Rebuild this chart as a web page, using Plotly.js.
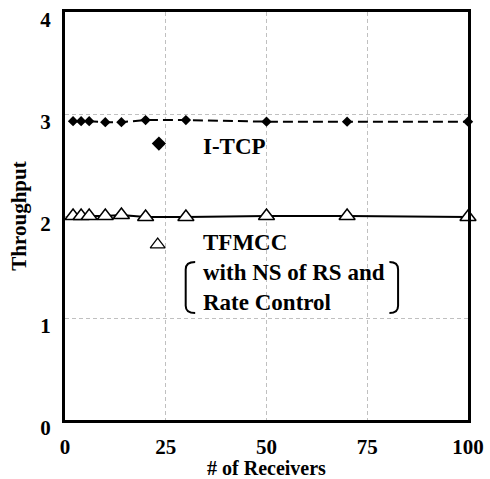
<!DOCTYPE html>
<html>
<head>
<meta charset="utf-8">
<script src="https://cdn.plot.ly/plotly-3.0.1.min.js"></script>
<style>html,body{margin:0;padding:0;background:#fff;}</style>
</head>
<body>
<div id="chart"></div>
<script>
// ---- data ----
var receivers = [2, 4, 6, 10, 14, 20, 30, 50, 70, 100];
var itcp      = [2.93, 2.93, 2.93, 2.92, 2.92, 2.94, 2.94, 2.925, 2.925, 2.925];
var tfmcc     = [2.0, 2.0, 2.0, 2.0, 2.01, 1.99, 1.99, 2.0, 2.0, 1.99];
var xTicks    = [0, 25, 50, 75, 100];
var yTicks    = [0, 1, 2, 3, 4];
var seriesNames = ['I-TCP', 'TFMCC<br>with NS of RS and<br>Rate Control'];

// ---- in-plot legend key positions (layout) ----
var keyX = [23.3, 23];
var keyY = [2.71, 1.72];

var FONT = 'Liberation Serif';

var traces = [
  {
    x: receivers, y: itcp, type: 'scatter', mode: 'lines+markers',
    line: {color: '#000', width: 2, dash: '10px,5px'},
    marker: {symbol: 'diamond', size: 8, color: '#000'},
    cliponaxis: false, showlegend: false, hoverinfo: 'skip'
  },
  {
    x: receivers, y: tfmcc, type: 'scatter', mode: 'lines+markers',
    line: {color: '#000', width: 2},
    marker: {symbol: 'triangle-up', size: 14, color: '#fff', line: {color: '#000', width: 1.5}},
    cliponaxis: false, showlegend: false, hoverinfo: 'skip'
  },
  {
    x: [keyX[0]], y: [keyY[0]], type: 'scatter', mode: 'markers',
    marker: {symbol: 'diamond', size: 11, color: '#000'},
    showlegend: false, hoverinfo: 'skip'
  },
  {
    x: [keyX[1]], y: [keyY[1]], type: 'scatter', mode: 'markers',
    marker: {symbol: 'triangle-up', size: 13, color: '#fff', line: {color: '#000', width: 1.2}},
    showlegend: false, hoverinfo: 'skip'
  }
];

// bracket helper (paper coords)
function bracket(xv, xe, yt, yb, ry) {
  return 'M' + xe + ',' + yt + ' Q' + xv + ',' + yt + ' ' + xv + ',' + (yt - ry) +
         ' L' + xv + ',' + (yb + ry) + ' Q' + xv + ',' + yb + ' ' + xe + ',' + yb;
}

var layout = {
  width: 490, height: 479,
  margin: {l: 65, r: 22, t: 12, b: 59},
  paper_bgcolor: '#fff', plot_bgcolor: '#fff',
  font: {family: FONT, color: '#000', size: 21, weight: 'bold'},
  xaxis: {
    range: [0, 100], tickvals: xTicks, ticktext: xTicks.map(String),
    showline: true, linewidth: 3, linecolor: '#000', mirror: true,
    showgrid: true, gridcolor: '#c0c0c0', gridwidth: 1, griddash: '4px,3px',
    zeroline: false, ticks: '', ticklabelstandoff: 6,
    tickfont: {family: FONT, size: 21, weight: 'bold', color: '#000'},
    title: {text: '# of Receivers', font: {family: FONT, size: 20, weight: 'bold', color: '#000'}, standoff: 4}
  },
  yaxis: {
    range: [0, 4], tickvals: yTicks, ticktext: yTicks.map(String),
    showline: true, linewidth: 3, linecolor: '#000', mirror: true,
    showgrid: true, gridcolor: '#c0c0c0', gridwidth: 1, griddash: '4px,3px',
    zeroline: false, ticks: '', ticklabelstandoff: 7, ticklabelshift: 8,
    tickfont: {family: FONT, size: 21, weight: 'bold', color: '#000'},
    title: {text: 'Throughput', font: {family: FONT, size: 21, weight: 'bold', color: '#000'}, standoff: 8}
  },
  annotations: [
    {xref: 'paper', yref: 'paper', x: 0.338, y: 0.671, xanchor: 'left', yanchor: 'middle',
     text: seriesNames[0], showarrow: false, align: 'left',
     font: {family: FONT, size: 23, weight: 'bold', color: '#000'}},
    {xref: 'paper', yref: 'paper', x: 0.338, y: 0.470, xanchor: 'left', yanchor: 'top',
     text: seriesNames[1], showarrow: false, align: 'left',
     font: {family: FONT, size: 23, weight: 'bold', color: '#000'}}
  ],
  shapes: [
    {type: 'path', xref: 'paper', yref: 'paper', line: {color: '#000', width: 2},
     path: bracket(0.2995, 0.323, 0.387, 0.262, 0.018)},
    {type: 'path', xref: 'paper', yref: 'paper', line: {color: '#000', width: 2},
     path: bracket(0.8265, 0.805, 0.387, 0.262, 0.018)}
  ]
};

Plotly.newPlot('chart', traces, layout, {staticPlot: true, displayModeBar: false});
</script>
</body>
</html>
